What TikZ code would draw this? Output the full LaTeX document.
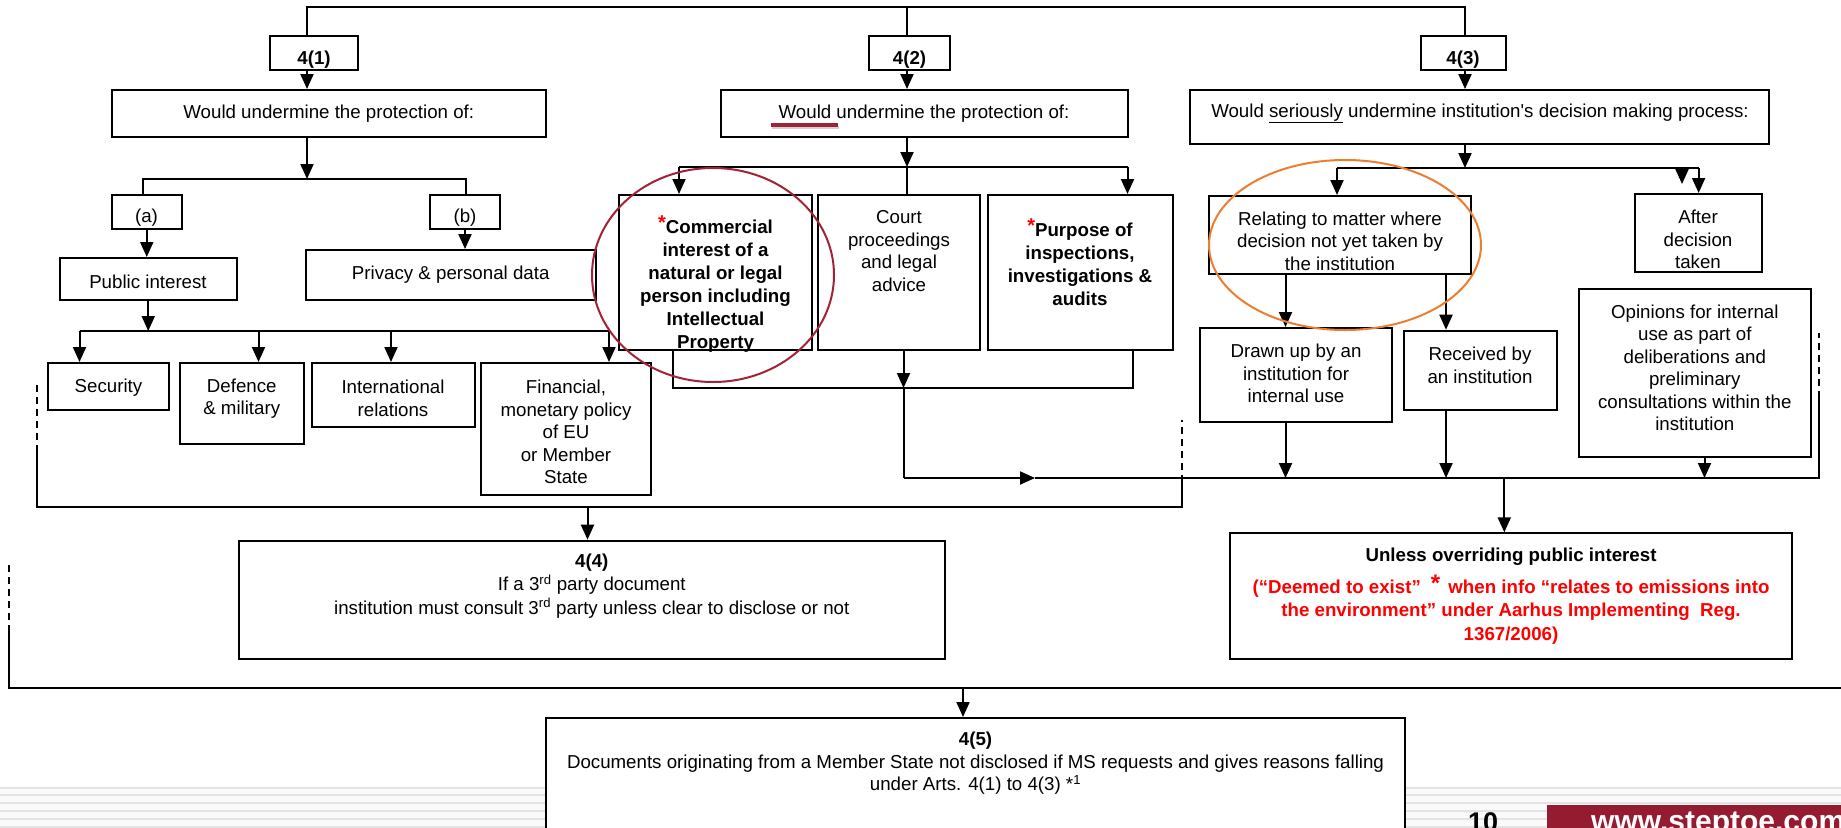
\documentclass[tikz,border=0pt]{standalone}
\usepackage{fontspec}
\setmainfont{Liberation Sans}
\usetikzlibrary{arrows.meta,calc}
\definecolor{footred}{RGB}{149,27,48}
\definecolor{circred}{RGB}{160,35,55}
\definecolor{orng}{RGB}{237,125,49}
\definecolor{txtred}{RGB}{255,0,0}
\newcommand\nf{\fontsize{18.7}{22.5}\selectfont}
\newcommand\bnf{\fontsize{18.7}{23}\selectfont\bfseries}
\newcommand\mkbox[5]{\node[bx, minimum width={#4-#2}, minimum height={#5-#3}] (#1) at ({(#2+#4)/2},{(#3+#5)/2}) {};}
\newcommand\rast{{\color{txtred}\smash{\raisebox{4pt}{\fontsize{20}{20}\selectfont *}}}}
\begin{document}
\begin{tikzpicture}[x=1pt,y=-1pt,
 bx/.style={draw, line width=2pt, fill=white, inner sep=0pt, rectangle},
 tx/.style={align=center, inner sep=0pt, font=\nf},
 btx/.style={align=center, inner sep=0pt, font=\bnf},
 ln/.style={line width=2pt},
 arr/.style={line width=2pt, -{Triangle[length=15pt,width=13pt]}},
 dsh/.style={line width=2pt, dash pattern=on 7pt off 5pt},
]
\useasboundingbox (0,0) rectangle (1841,827);
\clip (0,0) rectangle (1841,827);
\fill[white] (0,0) rectangle (1841,827);

% footer stripes
\fill[gray!4] (0,786) rectangle (1841,827);
\foreach \yy in {787.5,795.3,803.1,810.9,818.7,826.5}
  \draw[gray!22, line width=2pt] (0,\yy) -- (1841,\yy);

% boxes
\mkbox{b41}{270}{36}{358}{70}
\mkbox{b42}{869}{36}{950}{70}
\mkbox{b43}{1420.7}{36}{1506}{70}
\mkbox{w1}{111.5}{90}{546}{137}
\mkbox{w2}{720.6}{90}{1127.5}{137}
\mkbox{w3}{1190}{90}{1769.4}{144}
\mkbox{ba}{111.5}{195}{182}{229}
\mkbox{bb}{430}{195}{500}{229}
\mkbox{pub}{60}{258}{236.5}{300}
\mkbox{priv}{305.6}{250}{596}{300}
\mkbox{sec}{48}{363}{169}{410}
\mkbox{def}{179.5}{363}{304}{444}
\mkbox{intl}{312}{363}{474.5}{427}
\mkbox{fin}{481}{363}{651}{495}
\mkbox{com}{619}{195}{812}{350}
\mkbox{court}{818}{195}{979.6}{350}
\mkbox{purp}{987.7}{195}{1172.5}{350}
\mkbox{rel}{1208.7}{196}{1470.9}{274}
\mkbox{after}{1634.5}{194}{1761.8}{272}
\mkbox{drawn}{1200}{328}{1391.6}{421.7}
\mkbox{recv}{1403.5}{330.7}{1556.5}{410}
\mkbox{opin}{1579}{289}{1810.7}{456.7}
\mkbox{b44}{239}{540.7}{944.5}{659.3}
\mkbox{unless}{1229.5}{533.3}{1792.4}{659.3}
\mkbox{b45}{546}{718}{1405}{880}

% texts
\node[btx] (l41) at (314,60) {4(1)};
\node[btx] (l42) at (909.5,60) {4(2)};
\node[btx] (l43) at (1463,60) {4(3)};
\node[tx] (lw1) at (328.75,113.5) {Would undermine the protection of:};
\node[tx] (lw2) at (924,113.5) {Would undermine the protection of:};
\node[tx] (lw3) at (1480,113.5) {Would \underline{seriously} undermine institution\textquotesingle s decision making process:};
\node[tx] (la) at (146.5,218) {(a)};
\node[tx] (lb) at (465,218) {(b)};
\node[tx] (lpub) at (148,281.5) {Public interest};
\node[tx] (lpriv) at (450.7,274.5) {Privacy \& personal data};
\node[tx] (lsec) at (108.5,387.5) {Security};
\node[tx] (ldef) at (241.75,398.5) {Defence\\\& military};
\node[tx] (lintl) at (393,398.5) {International\\relations};
\node[tx] (lfin) at (566,432) {Financial,\\monetary policy\\of EU\\or Member\\State};
\node[btx] (lcom) at (715.5,286) {\rast Commercial\\interest of a\\natural or legal\\person including\\Intellectual\\Property};
\node[tx] (lcourt) at (899,251) {Court\\proceedings\\and legal\\advice};
\node[btx] (lpurp) at (1080,264.5) {\rast Purpose of\\inspections,\\investigations \&\\audits};
\node[tx] (lrel) at (1340,241) {Relating to matter where\\decision not yet taken by\\the institution};
\node[tx] (lafter) at (1698,239.5) {After\\decision\\taken};
\node[tx] (ldrawn) at (1296,373.5) {Drawn up by an\\institution for\\internal use};
\node[tx] (lrecv) at (1480,365.5) {Received by\\an institution};
\node[tx] (lopin) at (1694.8,368) {Opinions for internal\\use as part of\\deliberations and\\preliminary\\consultations within the\\institution};
\node[tx, font=\fontsize{18.7}{23.25}\selectfont] (l44) at (591.75,586) {\textbf{4(4)}\\If a 3\textsuperscript{rd} party document\\institution must consult 3\textsuperscript{rd} party unless clear to disclose or not};
\node[btx] (lun) at (1511,556.5) {Unless overriding public interest};
\node[btx, text=txtred, font=\fontsize{18.7}{23.5}\selectfont\bfseries] (lred) at (1511,612) {(“Deemed to exist”\hspace{10pt}\smash{\raisebox{2pt}{\fontsize{24}{24}\selectfont *}}\hspace{3pt} when info “relates to emissions into\\the environment” under Aarhus Implementing\ \ Reg.\\1367/2006)};
\node[tx] (l45) at (975.5,763.5) {\textbf{4(5)}\\Documents originating from a Member State not disclosed if MS requests and gives reasons falling\\under Arts. 4(1) to 4(3) *\textsuperscript{1}};

% top connectors
\coordinate (t1) at (307,7);
\coordinate (t2) at (907,7);
\coordinate (t3) at (1465,7);
\draw[ln] (t1 |- b41.north) -- (t1) -- (t3) -- (t3 |- b43.north);
\draw[ln] (t2) -- (t2 |- b42.north);
\draw[arr] (t1 |- b41.south) -- (t1 |- w1.north);
\draw[arr] (t2 |- b42.south) -- (t2 |- w2.north);
\draw[arr] (t3 |- b43.south) -- (t3 |- w3.north);

% 4(1) branch
\coordinate (j1) at (307,179);
\coordinate (ja) at (143,179);
\coordinate (jb) at (466,179);
\draw[arr] (t1 |- w1.south) -- (j1);
\draw[ln] (ja |- ba.north) -- (ja) -- (jb) -- (jb |- bb.north);
\draw[arr] (ba.south) -- (ba.south |- pub.north);
\draw[arr] (bb.south) -- (bb.south |- priv.north);
\coordinate (k1) at (79.5,331);
\coordinate (k2) at (258.5,331);
\coordinate (k3) at (391,331);
\coordinate (k4) at (609,331);
\draw[arr] (pub.south) -- (pub.south |- k1);
\draw[ln] (k1) -- (k4);
\draw[arr] (k1) -- (k1 |- sec.north);
\draw[arr] (k2) -- (k2 |- def.north);
\draw[arr] (k3) -- (k3 |- intl.north);
\draw[arr] (k4) -- (k4 |- fin.north);

% 4(2) branch
\coordinate (m1) at (679,167);
\coordinate (m2) at (1127.5,167);
\draw[arr] (t2 |- w2.south) -- (t2 |- m1);
\draw[ln] (m1) -- (m2);
\draw[arr] (m1) -- (m1 |- com.north);
\draw[arr] (m2) -- (m2 |- purp.north);
\draw[ln] (t2 |- m1) -- (t2 |- court.north);
\coordinate (n1) at (672.8,388);
\coordinate (n2) at (1132.6,388);
\coordinate (n3) at (903.5,388);
\draw[ln] (n1 |- com.south) -- (n1) -- (n2) -- (n2 |- purp.south);
\draw[arr] (n3 |- court.south) -- (n3);
\coordinate (r1) at (903.5,478);
\coordinate (r1m) at (1035,478);
\coordinate (r2) at (1818.7,478);
\coordinate (r3) at (1818.7,398);
\coordinate (r4) at (1818.7,333);
\draw[ln] (n3) -- (r1);
\draw[arr] (r1) -- (r1m);
\draw[ln] (r1m) -- (r2) -- (r3);
\draw[dsh] (r3) -- (r4);

% 4(3) branch
\coordinate (p1) at (1337,168);
\coordinate (p2) at (1698.6,168);
\coordinate (p3) at (1682,168);
\coordinate (p3e) at (1682,184);
\draw[arr] (t3 |- w3.south) -- (t3 |- p1);
\draw[ln] (p1) -- (p2);
\draw[arr] (p1) -- (p1 |- rel.north);
\draw[arr] (p2) -- (p2 |- after.north);
\draw[arr] (p3) -- (p3e);
\coordinate (q1) at (1285.5,478);
\coordinate (q2) at (1446,478);
\coordinate (q3) at (1704.5,478);
\coordinate (q4) at (1504.3,478);
\draw[arr] (q1 |- rel.south) -- (q1 |- drawn.north);
\draw[arr] (q2 |- rel.south) -- (q2 |- recv.north);
\draw[arr] (q1 |- drawn.south) -- (q1);
\draw[arr] (q2 |- recv.south) -- (q2);
\draw[arr] (q3 |- opin.south) -- (q3);
\draw[arr] (q4) -- (q4 |- unless.north);

% left loop to 4(4)
\coordinate (L1) at (37,385);
\coordinate (L2) at (37,452);
\coordinate (L3) at (37,507);
\coordinate (L4) at (1181.5,507);
\coordinate (L5) at (1181.5,482);
\coordinate (L6) at (1181.5,420);
\coordinate (L7) at (587.5,507);
\draw[dsh] (L1) -- (L2);
\draw[ln] (L2) -- (L3) -- (L4) -- (L5);
\draw[dsh] (L5) -- (L6);
\draw[arr] (L7) -- (L7 |- b44.north);

% outer loop to 4(5)
\coordinate (O1) at (8.7,565);
\coordinate (O2) at (8.7,630);
\coordinate (O3) at (8.7,688);
\coordinate (O4) at (1845,688);
\coordinate (O5) at (963,688);
\draw[dsh] (O1) -- (O2);
\draw[ln] (O2) -- (O3) -- (O4);
\draw[arr] (O5) -- (O5 |- b45.north);

% highlights
\draw[gray!35, line width=3.5pt] (772,127.5) -- (839,127.5);
\draw[circred, line width=3.5pt] (771,125) -- (838,125);
\draw[circred, line width=2pt] (713,275) ellipse [x radius=121, y radius=107];
\draw[orng, line width=2pt] (1345,245) ellipse [x radius=136, y radius=85];

% footer
\fill[footred] (1547,805) rectangle (1845,840);
\node[anchor=base west, inner sep=0pt, font=\fontsize{27}{27}\selectfont\bfseries] (pg) at (1468,831) {10};
\node[anchor=base west, inner sep=0pt, text=white, font=\fontsize{30}{30}\selectfont\bfseries] (web) at (1591,831) {www.steptoe.com};
\end{tikzpicture}
\end{document}
